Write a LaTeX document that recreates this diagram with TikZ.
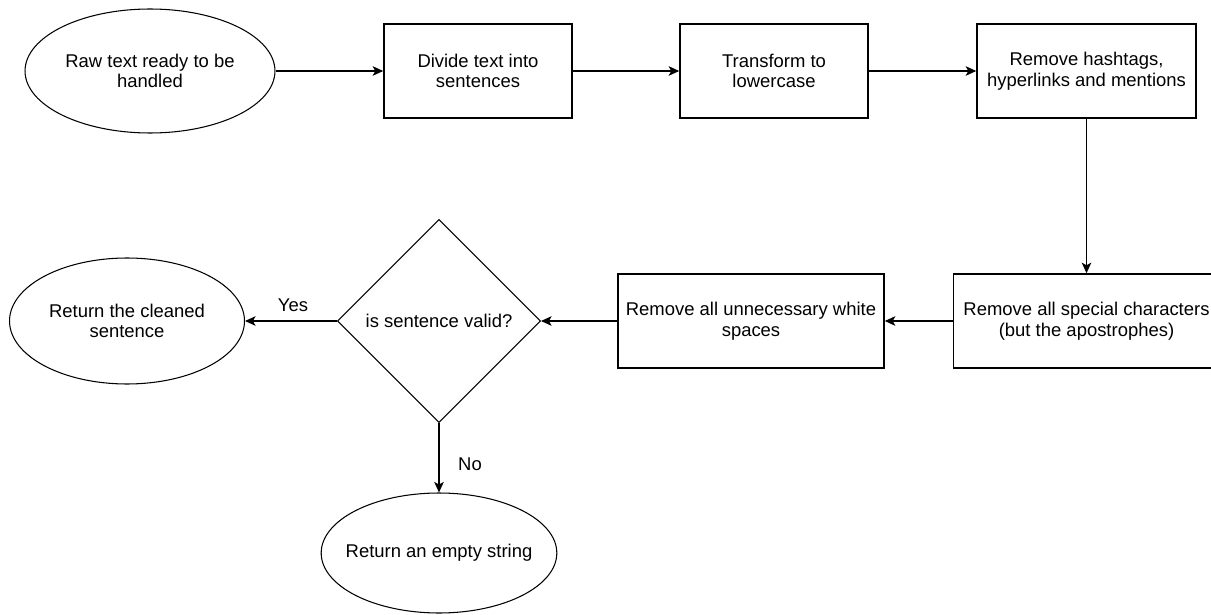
\documentclass[tikz,border=0pt]{standalone}
\usepackage{fontspec}
\setmainfont{Liberation Sans}
\usetikzlibrary{arrows.meta,shapes,positioning}

\begin{document}
\begin{tikzpicture}[x=0.02cm,y=-0.02cm,
  every node/.style={font=\fontsize{10.5}{11.8}\selectfont},
  proc/.style={draw, line width=0.9pt, rectangle, align=center, inner sep=0pt, minimum height=1.88cm},
  term/.style={draw, line width=0.6pt, ellipse, align=center, inner sep=0pt},
  dec/.style={draw, line width=0.6pt, diamond, align=center, inner sep=0pt, minimum width=4.06cm, minimum height=4.06cm},
  flow/.style={line width=0.8pt, -{Stealth[length=2.1mm,width=1.9mm,inset=0.5mm]}}]
\useasboundingbox (0,0) rectangle (1211,615);

\node [term, minimum width=5cm, minimum height=2.48cm] (raw) at (150,71) {Raw text ready to be\\handled};
\node [proc, minimum width=3.76cm] (divide) at (478,71) {Divide text into\\sentences};
\node [proc, minimum width=3.76cm] (lower) at (774,71) {Transform to\\lowercase};
\node [proc, minimum width=4.38cm] (hashtags) at (1086.5,71) {Remove hashtags,\\hyperlinks and mentions};

\node [proc, minimum width=5.32cm] (special) at (1086.5,321) {Remove all special characters\\(but the apostrophes)};
\node [proc, minimum width=5.32cm] (spaces) at (751,321) {Remove all unnecessary white\\spaces};
\node [dec] (valid) at (439,321) {is sentence valid?};
\node [term, minimum width=4.7cm, minimum height=2.52cm] (cleaned) at (127,321) {Return the cleaned\\sentence};
\node [term, inner xsep=-0.2cm, minimum width=4.7cm, minimum height=2.4cm] (empty) at (439,553) {Return an empty string};

% % % % % % % % % % % % % % % % % % % % % % % % % %

\draw [flow] (raw) -- (divide);
\draw [flow] (divide) -- (lower);
\draw [flow] (lower) -- (hashtags);
\draw [flow] (hashtags) -- (special);
\draw [flow] (special) -- (spaces);
\draw [flow] (spaces) -- (valid);
\draw [flow] (valid) -- (cleaned);
\draw [flow] (valid) -- (empty);

\node (yes) at (293,305) {Yes};
\node (no) at (470,464) {No};
\end{tikzpicture}
\end{document}
